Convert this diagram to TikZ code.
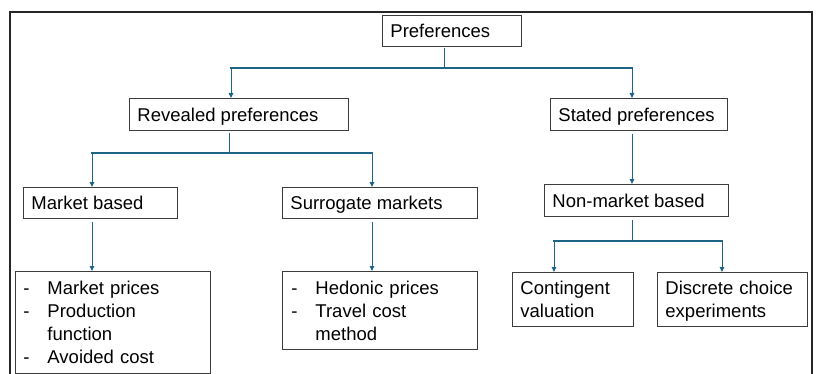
\documentclass[tikz,border=0pt]{standalone}
\usepackage{fontspec}
\setmainfont{Liberation Sans}
\usetikzlibrary{arrows.meta}
\definecolor{conncol}{RGB}{30,100,135}
\definecolor{boxcol}{RGB}{60,60,60}
\newcommand{\mydash}{\makebox[24pt][l]{-}}
\begin{document}
\begin{tikzpicture}[x=1pt,y=-1pt,
  font=\fontsize{18.5}{23}\selectfont,
  onebox/.style={draw=boxcol, line width=0.9pt, fill=white, inner xsep=8pt, inner ysep=0pt,
    anchor=north west, text height=13.2pt, text depth=0pt},
  multibox/.style={draw=boxcol, line width=0.9pt, fill=white, inner xsep=8pt, inner ysep=0pt,
    anchor=north west, align=left},
  frame/.style={draw=black!85, line width=1.5pt},
  vline/.style={draw=conncol, line width=1pt},
  hline/.style={draw=conncol, line width=1.7pt, line cap=rect},
  arr/.style={draw=conncol, line width=1pt, -{Triangle[width=4.5pt,length=5pt]}}]
\useasboundingbox (0,0) rectangle (818,374);
\draw[frame] (10,376) -- (10,12) -- (812,12) -- (812,376);

% boxes
\node[onebox, minimum width=139pt, minimum height=31pt] (pref) at (382,15) {\makebox[123pt][l]{Preferences}};
\node[onebox, minimum width=219pt, minimum height=32pt] (rev) at (129,98) {\makebox[203pt][l]{Revealed preferences}};
\node[onebox, minimum width=177pt, minimum height=32pt] (stat) at (550,98) {\makebox[161pt][l]{Stated preferences}};
\node[onebox, minimum width=154pt, minimum height=31pt] (mkt) at (23,187) {\makebox[138pt][l]{Market based}};
\node[onebox, minimum width=195pt, minimum height=31pt] (sur) at (282,187) {\makebox[179pt][l]{Surrogate markets}};
\node[onebox, minimum width=184pt, minimum height=32pt] (nonm) at (544,184) {\makebox[168pt][l]{Non-market based}};
\node[multibox, text width=179pt, minimum height=102pt] (mlist) at (15,271)
  {\mydash Market prices\\ \mydash Production\\ \hspace*{24pt}function\\ \mydash Avoided cost};
\node[multibox, text width=179pt, minimum height=78pt] (slist) at (282,271)
  {\hspace*{1pt}\mydash Hedonic prices\\ \hspace*{1pt}\mydash Travel cost\\ \hspace*{25pt}method};
\node[multibox, text width=105pt, minimum height=54pt] (cont) at (512,272)
  {Contingent\\ valuation};
\node[multibox, text width=134pt, minimum height=54pt] (disc) at (657,272)
  {Discrete choice\\ \smash{experiments}};

% junctions
\coordinate (c1) at (444,68);
\coordinate (c1a) at (231,68);
\coordinate (c1b) at (632,68);
\coordinate (c2) at (229,153);
\coordinate (c2a) at (92,153);
\coordinate (c2b) at (372,153);
\coordinate (c4) at (632,241);
\coordinate (c4a) at (554,241);
\coordinate (c4b) at (722,241);

% connectors
\draw[vline, shorten <=1.5pt] (pref.south -| c1) -- (c1);
\draw[hline] (c1a) -- (c1b);
\draw[arr] (c1a) -- (c1a |- rev.north);
\draw[arr] (c1b) -- (c1b |- stat.north);

\draw[vline, shorten <=2pt] (rev.south -| c2) -- (c2);
\draw[hline] (c2a) -- (c2b);
\draw[arr] (c2a) -- (c2a |- mkt.north);
\draw[arr] (c2b) -- (c2b |- sur.north);

\draw[arr, shorten <=3pt] (stat.south -| c1b) -- (c1b |- nonm.north);

\draw[vline, shorten <=3pt] (nonm.south -| c4) -- (c4);
\draw[hline] (c4a) -- (c4b);
\draw[arr] (c4a) -- (c4a |- cont.north);
\draw[arr] (c4b) -- (c4b |- disc.north);

\draw[arr, shorten <=3pt] (mkt.south -| c2a) -- (c2a |- mlist.north);
\draw[arr, shorten <=3pt] (sur.south -| c2b) -- (c2b |- slist.north);
\end{tikzpicture}
\end{document}
